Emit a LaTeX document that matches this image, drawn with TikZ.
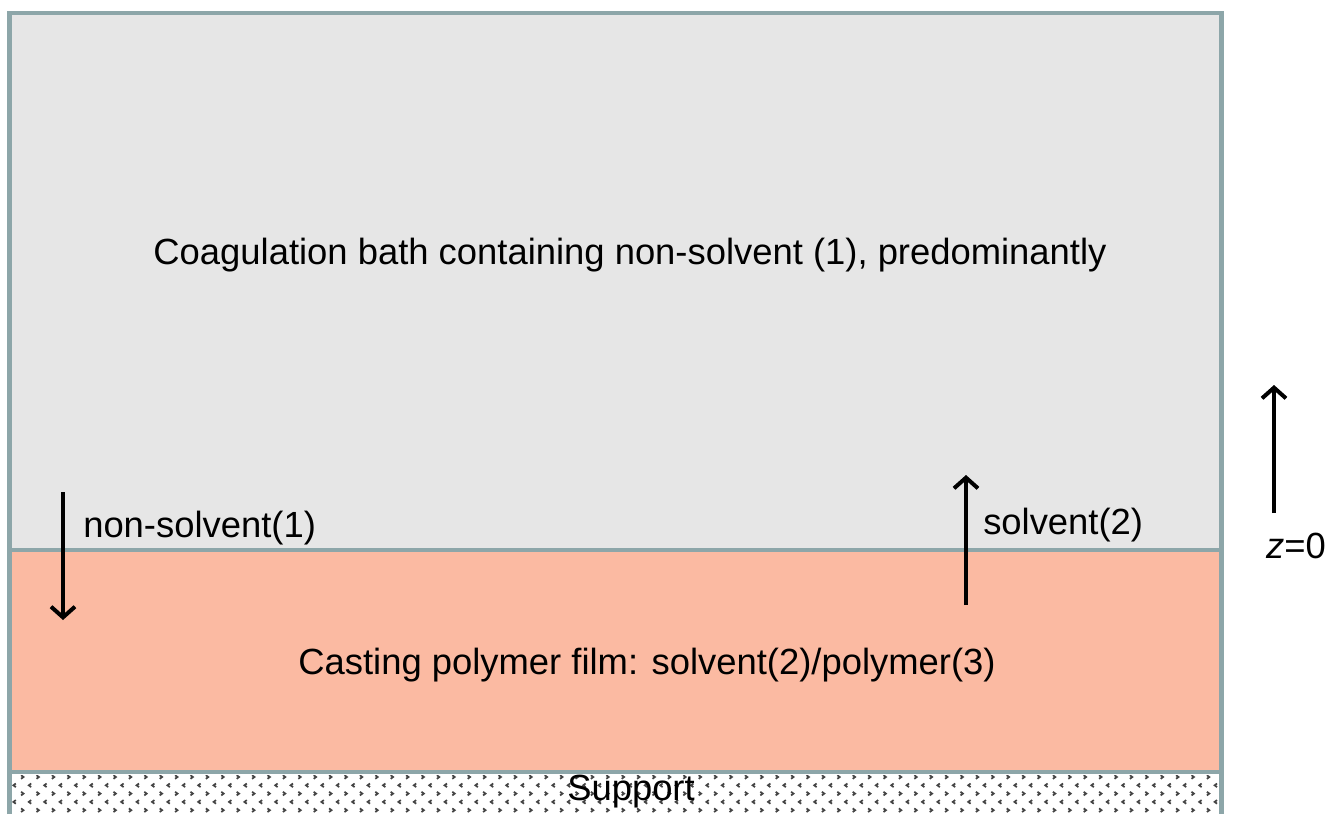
\documentclass[tikz,border=0pt]{standalone}
\usepackage{fontspec}
\setmainfont{Liberation Sans}
\usetikzlibrary{arrows.meta}
\definecolor{bathgray}{HTML}{E6E6E6}
\definecolor{filmsalmon}{HTML}{FBBAA2}
\definecolor{edgeteal}{HTML}{8DA6A9}
\definecolor{dotgray}{HTML}{444444}
\tikzset{
  layerborder/.style={draw=edgeteal, line width=3.2pt},
  lbl/.style={font=\fontsize{27.3}{32}\selectfont, inner sep=0pt, text=black},
  flux/.style={line width=3pt, -{Straight Barb[length=8pt,width=18pt,line width=3pt]}},
  chev/.style={draw=dotgray, line width=1.3pt},
}
\begin{document}
\begin{tikzpicture}[x=0.75pt,y=-0.75pt]
\useasboundingbox (0,0) rectangle (1328,814);
% layers
\fill[bathgray] (9.5,13) rectangle (1221.5,550);
\fill[filmsalmon] (9.5,550) rectangle (1221.5,772);
\fill[white] (9.5,772) rectangle (1221.5,814);
% support pattern
\begin{scope}
\clip (11,775) rectangle (1220,814);
\foreach \i in {0,...,80}{
  \foreach \j in {0,2,4}{
    \pgfmathsetmacro{\xx}{22.3+15.4*\i}
    \pgfmathsetmacro{\yy}{777+8.3*\j}
    \draw[chev] (\xx-1.2,\yy-1.8) -- (\xx+1.2,\yy) -- (\xx-1.2,\yy+1.8);
  }
  \foreach \j in {1,3}{
    \pgfmathsetmacro{\xx}{14.6+15.4*\i}
    \pgfmathsetmacro{\yy}{777+8.3*\j}
    \draw[chev] (\xx+1.2,\yy-1.8) -- (\xx-1.2,\yy) -- (\xx+1.2,\yy+1.8);
  }
}
\end{scope}
% borders
\draw[layerborder] (9.5,814) -- (9.5,13) -- (1221.5,13) -- (1221.5,814);
\draw[layerborder] (9.5,550) -- (1221.5,550);
\draw[layerborder] (9.5,772) -- (1221.5,772);
% labels
\node[lbl] (bath) at (630,255) {Coagulation bath containing non-solvent (1), predominantly};
\node[lbl] (film) at (647,665) {Casting polymer film: solvent(2)/polymer(3)};
\node[lbl] (support) at (631,792) {Support};
\node[lbl, anchor=west] (nslbl) at (83,528) {non-solvent(1)};
\node[lbl, anchor=west] (slbl) at (983,525) {solvent(2)};
\node[lbl] (zlbl) at (1296,546) {\textit{z}=0};
% arrows
\coordinate (ns1) at (63,492);
\coordinate (ns2) at (63,620);
\coordinate (s1) at (966,605);
\coordinate (s2) at (966,475);
\coordinate (z1) at (1274,513);
\coordinate (z2) at (1274,385);
\draw[flux] (ns1) -- (ns2);
\draw[flux] (s1) -- (s2);
\draw[flux] (z1) -- (z2);
\end{tikzpicture}
\end{document}
